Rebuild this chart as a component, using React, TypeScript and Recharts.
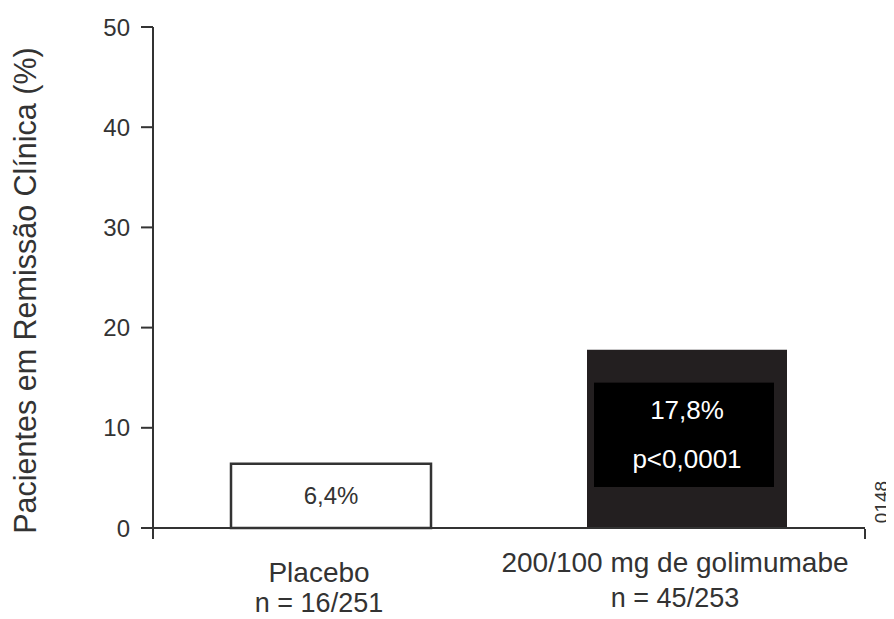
import { BarChart, Bar, XAxis, YAxis, Cell, LabelList, Customized } from "recharts";

const groups = ["Placebo", "200/100 mg de golimumabe"];
const counts = ["n = 16/251", "n = 45/253"];
const remission = [6.4, 17.8];
const pValues = [null, "p<0,0001"];
const yTicks = [0, 10, 20, 30, 40, 50];
const edgeTicks = [0, 1, 2];

const data = groups.map((g, i) => ({ group: g, n: counts[i], rate: remission[i], p: pValues[i] }));

const FONT = "'Liberation Sans', Arial, sans-serif";
const INK = "#333";

const fmt = (v: number) => v.toFixed(1).replace(".", ",") + "%";

// the long label block sits a bit higher than the short one
const nameShift = [0, -10];
const countShift = [0, -5];

function GroupTick(props: any) {
  const { x, y, payload, index } = props;
  const i = index ?? 0;
  const cx = x - 12;
  return (
    <g>
      <text x={cx} y={y + 54 + nameShift[i]} textAnchor="middle" fontSize={28} fill={INK} fontFamily={FONT}>
        {payload.value}
      </text>
      <text x={cx} y={y + 84 + countShift[i]} textAnchor="middle" fontSize={27} fill={INK} fontFamily={FONT}>
        {data[i]?.n}
      </text>
    </g>
  );
}

function BarText(props: any) {
  const { x, y, width, height, index, value } = props;
  const cx = x + width / 2;
  const p = data[index]?.p;
  if (!p) {
    return (
      <text x={cx} y={y + height / 2} dy={8} textAnchor="middle" fontSize={24} fill={INK} fontFamily={FONT}>
        {fmt(value)}
      </text>
    );
  }
  const top = y + 33;
  const h = height - 74;
  const mid = top + h / 2;
  return (
    <g>
      <rect x={x + 7} y={top} width={width - 20} height={h} fill="#000" />
      <text x={cx} y={mid - 25} dy={9} textAnchor="middle" fontSize={26} fill="#fff" fontFamily={FONT}>
        {fmt(value)}
      </text>
      <text x={cx} y={mid + 24} dy={9} textAnchor="middle" fontSize={26} fill="#fff" fontFamily={FONT}>
        {p}
      </text>
    </g>
  );
}

function YTitle(props: any) {
  const { viewBox } = props;
  const cy = viewBox.y + viewBox.height / 2 + 13;
  const x = 28;
  return (
    <text x={x} y={cy} transform={`rotate(-90 ${x} ${cy})`} textAnchor="middle" fontSize={30.5} fill={INK} fontFamily={FONT}>
      Pacientes em Remissão Clínica (%)
    </text>
  );
}

function FigureCode() {
  return (
    <text x={880} y={494} transform="rotate(-90 880 494)" textAnchor="middle" fontSize={19} fill={INK} fontFamily={FONT}>
      0148
    </text>
  );
}

export default function App() {
  return (
    <BarChart width={886} height={611} data={data} margin={{ top: 19, right: 29, bottom: 89, left: 65 }}>
      <XAxis
        xAxisId="edges"
        type="number"
        domain={[0, 2]}
        ticks={edgeTicks}
        tickFormatter={() => ""}
        axisLine={false}
        tickSize={10}
        tickLine={{ stroke: INK, strokeWidth: 2 }}
        height={1}
      />
      <XAxis
        xAxisId="cat"
        dataKey="group"
        height={1}
        tickSize={0}
        tickMargin={0}
        tickLine={false}
        axisLine={{ stroke: INK, strokeWidth: 2 }}
        tick={<GroupTick />}
        interval={0}
      />
      <YAxis
        domain={[0, 50]}
        ticks={yTicks}
        width={80}
        tickSize={12}
        tickMargin={11}
        axisLine={{ stroke: INK, strokeWidth: 2 }}
        tickLine={{ stroke: INK, strokeWidth: 2 }}
        tick={{ fontSize: 24, fill: INK, fontFamily: FONT }}
        label={<YTitle />}
      />
      <Bar xAxisId="cat" dataKey="rate" barSize={200} isAnimationActive={false}>
        <Cell fill="#fff" stroke={INK} strokeWidth={2.5} />
        <Cell fill="#231f20" />
        <LabelList dataKey="rate" content={<BarText />} />
      </Bar>
      <Customized component={FigureCode} />
    </BarChart>
  );
}
